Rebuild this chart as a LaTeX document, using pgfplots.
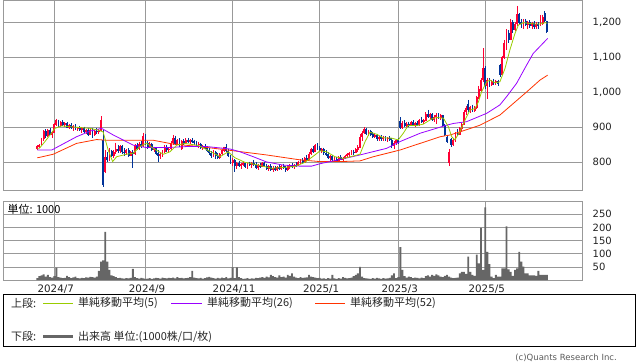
\documentclass[border=0pt]{standalone}
\usepackage{fontspec}
\setmainfont{DejaVu Sans}
\newfontfamily\jp{Noto Sans CJK JP}
\usepackage{pgfplots}
\usepackage{pgfplotstable}
\pgfplotsset{compat=1.18}
\definecolor{upc}{HTML}{FF0033}
\definecolor{dnc}{HTML}{003399}
\definecolor{mafive}{HTML}{99CC00}
\definecolor{matwsix}{HTML}{9900FF}
\definecolor{mafitwo}{HTML}{FF3300}
\definecolor{volc}{HTML}{666666}
\definecolor{gridc}{HTML}{999999}
\definecolor{tickc}{HTML}{222222}

\pgfplotstableread{
i o h l c
0 838 848 836 845
1 845 852 840 848
2 850 870 848 866
3 866 892 862 888
4 888 895 870 875
5 875 895 872 892
6 892 898 878 880
7 880 890 868 885
8 885 912 884 908
9 908 925 905 920
10 920 922 900 905
11 905 918 900 914
12 914 920 903 906
13 906 915 900 912
14 912 916 898 900
15 900 910 895 906
16 906 912 896 898
17 898 906 890 903
18 903 908 892 895
19 895 902 888 898
20 898 904 890 893
21 893 900 885 897
22 897 902 884 887
23 887 895 880 892
24 892 898 875 880
25 880 895 878 893
26 893 898 870 878
27 878 892 876 890
28 890 898 882 886
29 886 894 880 890
30 890 932 888 920
31 862 892 730 735
32 773 835 770 815
33 815 830 800 808
34 808 840 805 832
35 832 836 815 820
36 820 835 812 830
37 830 856 825 838
38 838 850 826 832
39 832 848 826 845
40 845 850 825 830
41 830 840 818 826
42 826 838 820 834
43 834 840 815 820
44 820 832 818 828
45 828 835 784 825
46 825 852 822 848
47 848 856 835 840
48 840 858 836 852
49 852 860 842 846
50 846 885 845 875
51 875 880 850 855
52 855 862 838 842
53 842 858 840 852
54 852 856 832 836
55 836 845 828 840
56 840 844 820 825
57 825 835 802 818
58 818 828 808 822
59 822 835 815 830
60 830 848 826 844
61 844 850 830 835
62 835 842 826 838
63 838 860 835 855
64 855 878 850 870
65 870 876 848 852
66 852 866 848 862
67 862 868 845 848
68 840 864 834 860
69 860 866 850 856
70 856 868 852 864
71 864 870 855 858
72 858 866 852 862
73 862 868 855 860
74 860 865 850 855
75 855 862 846 850
76 850 858 842 852
77 852 856 838 842
78 842 850 835 846
79 846 852 838 840
80 840 846 830 834
81 834 840 820 826
82 826 832 812 820
83 820 834 815 828
84 828 832 810 818
85 818 826 808 812
86 812 826 810 824
87 824 836 822 834
88 834 845 830 842
89 842 852 828 832
90 832 838 815 818
91 818 822 796 800
92 800 812 790 806
93 806 810 772 790
94 790 800 780 796
95 796 804 786 790
96 790 798 782 794
97 794 802 788 796
98 796 800 784 788
99 788 798 782 795
100 795 802 788 792
101 792 800 785 798
102 798 806 790 794
103 794 800 780 785
104 785 796 778 792
105 792 798 784 788
106 788 800 786 797
107 797 802 786 790
108 790 796 778 782
109 782 792 776 788
110 788 794 775 780
111 780 790 772 784
112 784 790 776 779
113 779 790 775 786
114 786 794 778 782
115 782 792 777 789
116 789 796 780 784
117 784 790 772 778
118 778 792 775 788
119 788 794 780 792
120 792 798 784 787
121 787 796 782 793
122 793 800 786 790
123 790 804 788 800
124 800 810 795 806
125 806 812 796 800
126 800 816 798 812
127 812 820 804 808
128 808 828 806 824
129 824 842 820 838
130 838 846 826 830
131 830 852 828 848
132 848 855 836 840
133 840 846 828 832
134 832 842 826 838
135 838 842 822 826
136 826 834 818 822
137 822 828 808 812
138 812 820 804 816
139 816 822 802 806
140 806 814 800 810
141 810 816 802 805
142 805 818 804 815
143 815 820 806 808
144 808 816 804 812
145 812 822 808 818
146 818 826 814 822
147 822 830 816 826
148 826 834 820 830
149 830 836 822 828
150 828 840 826 836
151 836 848 830 842
152 842 880 840 872
153 872 890 860 884
154 884 900 880 895
155 895 898 878 882
156 882 892 876 888
157 888 893 876 880
158 880 886 870 874
159 874 884 868 878
160 878 882 862 866
161 866 876 860 872
162 872 878 862 866
163 866 876 862 870
164 870 875 862 866
165 866 872 858 868
166 868 874 860 864
167 864 870 840 846
168 846 860 838 855
169 855 866 850 862
170 862 868 852 856
171 918 928 895 900
172 900 918 896 912
173 912 920 900 904
174 904 915 900 910
175 910 916 902 906
176 906 918 904 914
177 914 920 905 908
178 908 916 902 912
179 912 918 904 906
180 906 924 904 920
181 920 930 912 916
182 916 924 908 920
183 920 944 918 938
184 938 950 926 930
185 930 942 924 936
186 936 940 918 922
187 922 935 915 930
188 930 940 910 935
189 935 940 924 928
190 928 938 920 934
191 934 936 900 905
192 906 910 874 880
193 872 878 855 860
194 800 838 790 830
195 866 868 845 850
196 850 866 846 862
197 862 886 858 882
198 882 895 876 880
199 880 900 878 896
200 896 912 890 908
201 908 950 906 944
202 944 962 935 955
203 965 978 945 950
204 950 962 940 958
205 958 965 945 948
206 948 960 944 956
207 956 990 952 985
208 985 1018 980 1010
209 1005 1040 1000 1035
210 1035 1126 1030 1070
211 1070 1075 1010 1018
212 1018 1042 980 1035
213 1035 1040 1015 1022
214 1022 1036 1018 1030
215 1030 1038 1020 1026
216 1026 1036 1020 1032
217 1032 1036 1018 1024
218 1076 1080 1045 1050
219 1050 1105 1048 1100
220 1100 1150 1095 1140
221 1125 1180 1120 1170
222 1170 1178 1140 1150
223 1150 1210 1148 1200
224 1200 1206 1170 1180
225 1180 1200 1175 1195
226 1195 1247 1190 1222
227 1222 1226 1195 1200
228 1200 1210 1185 1195
229 1195 1208 1182 1204
230 1204 1210 1188 1192
231 1192 1205 1180 1200
232 1200 1206 1185 1190
233 1190 1202 1180 1196
234 1196 1204 1182 1186
235 1186 1200 1180 1194
236 1194 1200 1182 1190
237 1190 1222 1188 1212
238 1195 1222 1192 1215
239 1225 1232 1200 1205
240 1202 1205 1168 1172
}\candles

\pgfplotstableread{
i v
0 8
1 15
2 18
3 22
4 14
5 20
6 12
7 10
8 15
9 48
10 12
11 10
12 8
13 9
14 16
15 12
16 8
17 11
18 14
19 8
20 7
21 9
22 8
23 11
24 10
25 13
26 12
27 10
28 14
29 35
30 70
31 75
32 183
33 70
34 39
35 18
36 15
37 12
38 8
39 9
40 7
41 6
42 8
43 7
44 9
45 43
46 12
47 8
48 6
49 9
50 7
51 5
52 6
53 8
54 5
55 7
56 9
57 8
58 6
59 10
60 8
61 7
62 9
63 8
64 10
65 7
66 12
67 8
68 9
69 7
70 8
71 9
72 12
73 35
74 10
75 8
76 7
77 9
78 6
79 8
80 11
81 13
82 10
83 8
84 6
85 9
86 7
87 10
88 8
89 12
90 7
91 9
92 49
93 8
94 49
95 12
96 8
97 5
98 6
99 8
100 5
101 7
102 6
103 9
104 8
105 10
106 12
107 9
108 14
109 11
110 20
111 15
112 12
113 10
114 18
115 12
116 14
117 10
118 20
119 16
120 26
121 14
122 10
123 8
124 12
125 9
126 10
127 11
128 20
129 14
130 12
131 10
132 8
133 9
134 6
135 7
136 5
137 8
138 6
139 20
140 7
141 5
142 8
143 6
144 12
145 9
146 7
147 8
148 10
149 15
150 20
151 26
152 50
153 14
154 8
155 7
156 6
157 5
158 8
159 6
160 9
161 7
162 5
163 8
164 6
165 7
166 9
167 18
168 26
169 8
170 12
171 125
172 39
173 15
174 10
175 14
176 12
177 8
178 10
179 9
180 7
181 10
182 8
183 15
184 18
185 14
186 20
187 16
188 22
189 18
190 14
191 12
192 16
193 20
194 14
195 10
196 8
197 9
198 10
199 26
200 32
201 32
202 24
203 89
204 32
205 20
206 16
207 97
208 64
209 198
210 39
211 276
212 107
213 61
214 14
215 8
216 20
217 14
218 14
219 45
220 45
221 204
222 41
223 32
224 16
225 39
226 45
227 107
228 70
229 51
230 26
231 26
232 18
233 18
234 18
235 16
236 35
237 20
238 20
239 20
240 20
}\volume

\pgfplotsset{
  chartbase/.style={
    scale only axis, anchor=south west,
    xmin=-16, xmax=256.9,
    axis line style={draw=gridc, line width=0.9pt},
    grid=major, grid style={draw=gridc, line width=0.9pt},
    major tick length=0pt,
    xtick={8,51,92,133,170,211},
    yticklabel pos=right,
    yticklabel style={font=\fontsize{10}{12}\selectfont, text=tickc, xshift=6.5pt},
    xticklabel style={font=\fontsize{10.3}{12}\selectfont, text=tickc, yshift=-1.5pt, xshift=1.5pt},
    /pgf/number format/assume math mode=true,
    /pgf/number format/1000 sep={,},
  },
  wick/.style={draw=none, mark=none, forget plot,
    error bars/.cd, y dir=minus, y explicit, error mark=none,
    error bar style={draw=#1, line width=0.85pt}},
  body/.style={draw=none, mark=none, forget plot,
    error bars/.cd, y dir=minus, y explicit, error mark=none,
    error bar style={draw=#1, line width=1.9pt}},
}

\begin{document}
\begin{tikzpicture}
\useasboundingbox (0pt,0pt) rectangle (638pt,362pt);
% price panel
\begin{axis}[chartbase,
  at={(3.3pt,171.7pt)}, width=579.4pt, height=189.6pt,
  ymin=720, ymax=1261.7,
  ytick={800,900,1000,1100,1200},
  xticklabels={,,,,,},
]
\addplot[restrict expr to domain={\thisrow{c}-\thisrow{o}}{0:5000}, wick=upc]
  table[x=i, y=h, y error minus expr=\thisrow{h}-\thisrow{l}] {\candles};
\addplot[restrict expr to domain={\thisrow{c}-\thisrow{o}}{0:5000}, body=upc]
  table[x=i, y expr=\thisrow{c}+0.6, y error minus expr=\thisrow{c}-\thisrow{o}+1.2] {\candles};
\addplot[restrict expr to domain={\thisrow{c}-\thisrow{o}}{-5000:-0.5}, wick=dnc]
  table[x=i, y=h, y error minus expr=\thisrow{h}-\thisrow{l}] {\candles};
\addplot[restrict expr to domain={\thisrow{c}-\thisrow{o}}{-5000:-0.5}, body=dnc]
  table[x=i, y expr=\thisrow{o}+0.6, y error minus expr=\thisrow{o}-\thisrow{c}+1.2] {\candles};
% MA52
\addplot[mafitwo, line width=0.8pt, mark=none] coordinates {
(0,813) (1,814) (7.5,823) (18.5,854) (28,865) (32.7,863) (54.6,863) (64.1,852) (76.6,845) (92.3,833) (108,821) (123.7,807) (133.2,802) (142.6,802) (152,804) (158.3,816) (170.8,835) (180.3,854) (189.7,873) (194.4,878) (199.1,887) (208.5,906) (217.9,935) (224.2,968) (230.5,1001) (236.8,1035) (240.4,1049)};
% MA26
\addplot[matwsix, line width=0.8pt, mark=none] coordinates {
(0,835) (1,835) (6.8,835) (18.5,873) (24.8,889) (30.3,897) (35.8,878) (45.2,849) (51.5,842) (60.9,842) (70.4,845) (79.8,845) (90.8,838) (95.5,830) (101.7,816) (108,801) (115.9,792) (123.7,789) (129.2,789) (133.2,796) (142.6,808) (152,821) (164.6,840) (170.8,859) (180.3,883) (192.8,906) (196,911) (202.2,916) (211.7,940) (217.9,964) (221.1,988) (225.8,1026) (230.5,1078) (233.6,1111) (240.4,1154)};
% MA5
\addplot[mafive, line width=0.8pt, mark=none] coordinates {
(0,840) (1,840) (3.6,859) (6,878) (8.3,897) (11.5,904) (18.5,900) (24.8,897) (28.7,892) (31,887) (33.4,835) (35.5,802) (37.4,816) (42,823) (45.2,826) (48.4,845) (51.5,855) (54.6,840) (59.4,823) (62.5,830) (65.7,849) (69.6,854) (75.9,848) (82.1,829) (86.1,816) (89.9,830) (93.1,813) (97.8,800) (104,792) (110.4,783) (115.1,785) (121.4,788) (126.1,800) (130.8,821) (133.2,833) (136.3,830) (140.2,816) (144.1,811) (148.9,818) (152,823) (154.4,859) (156.7,886) (159.9,880) (163,870) (166.9,869) (170,864) (172.4,883) (174.7,905) (178.7,905) (181.8,909) (185.8,924) (188.1,928) (191.3,926) (193.6,902) (195.2,873) (196.7,864) (199.1,888) (201.5,921) (203.8,949) (206.2,954) (207.8,973) (209.3,1002) (211.7,1030) (213.2,1035) (215.6,1027) (217.9,1030) (220.3,1068) (222.6,1121) (225,1168) (226.6,1192) (229,1199) (231.3,1197) (234.5,1195) (236.8,1195) (239.2,1199) (240.3,1197)};
\end{axis}
% volume panel
\begin{axis}[chartbase,
  at={(3.3pt,81.8pt)}, width=579.4pt, height=79.2pt,
  ymin=0, ymax=300,
  ytick={50,100,150,200,250},
  xticklabels={2024/7,2024/9,2024/11,2025/1,2025/3,2025/5},
]
\addplot[ybar, bar width=1.9pt, fill=volc, draw=none] table[x=i, y=v] {\volume};
\end{axis}
\node[anchor=west, inner sep=0pt, font=\jp\fontsize{11}{13}\selectfont] at (7.5pt,153pt) {単位: 1000};
% legend box
\draw[black, line width=0.8pt] (3.3pt,67.7pt) rectangle (635.7pt,16pt);
\draw[draw=mafive, line width=1.2pt] (43pt,58.7pt) -- (73pt,58.7pt);
\draw[draw=matwsix, line width=1.2pt] (171pt,58.7pt) -- (202pt,58.7pt);
\draw[draw=mafitwo, line width=1.2pt] (315pt,58.7pt) -- (345pt,58.7pt);
\draw[draw=volc, line width=3pt] (43pt,25.3pt) -- (73pt,25.3pt);
\begin{scope}[every node/.style={anchor=west, inner sep=0pt, font=\jp\fontsize{11}{13}\selectfont, text=black!85}]
\node at (11pt,58.7pt) {上段:};
\node at (78pt,58.7pt) {単純移動平均(5)};
\node at (207pt,58.7pt) {単純移動平均(26)};
\node at (350pt,58.7pt) {単純移動平均(52)};
\node at (11pt,25.3pt) {下段:};
\node at (78pt,25.3pt) {出来高 単位:(1000株/口/枚)};
\end{scope}
\node[anchor=east, inner sep=0pt, font=\fontsize{8.5}{10}\selectfont, text=black!65] at (617pt,4.5pt) {(c)Quants Research Inc.};
\end{tikzpicture}
\end{document}
